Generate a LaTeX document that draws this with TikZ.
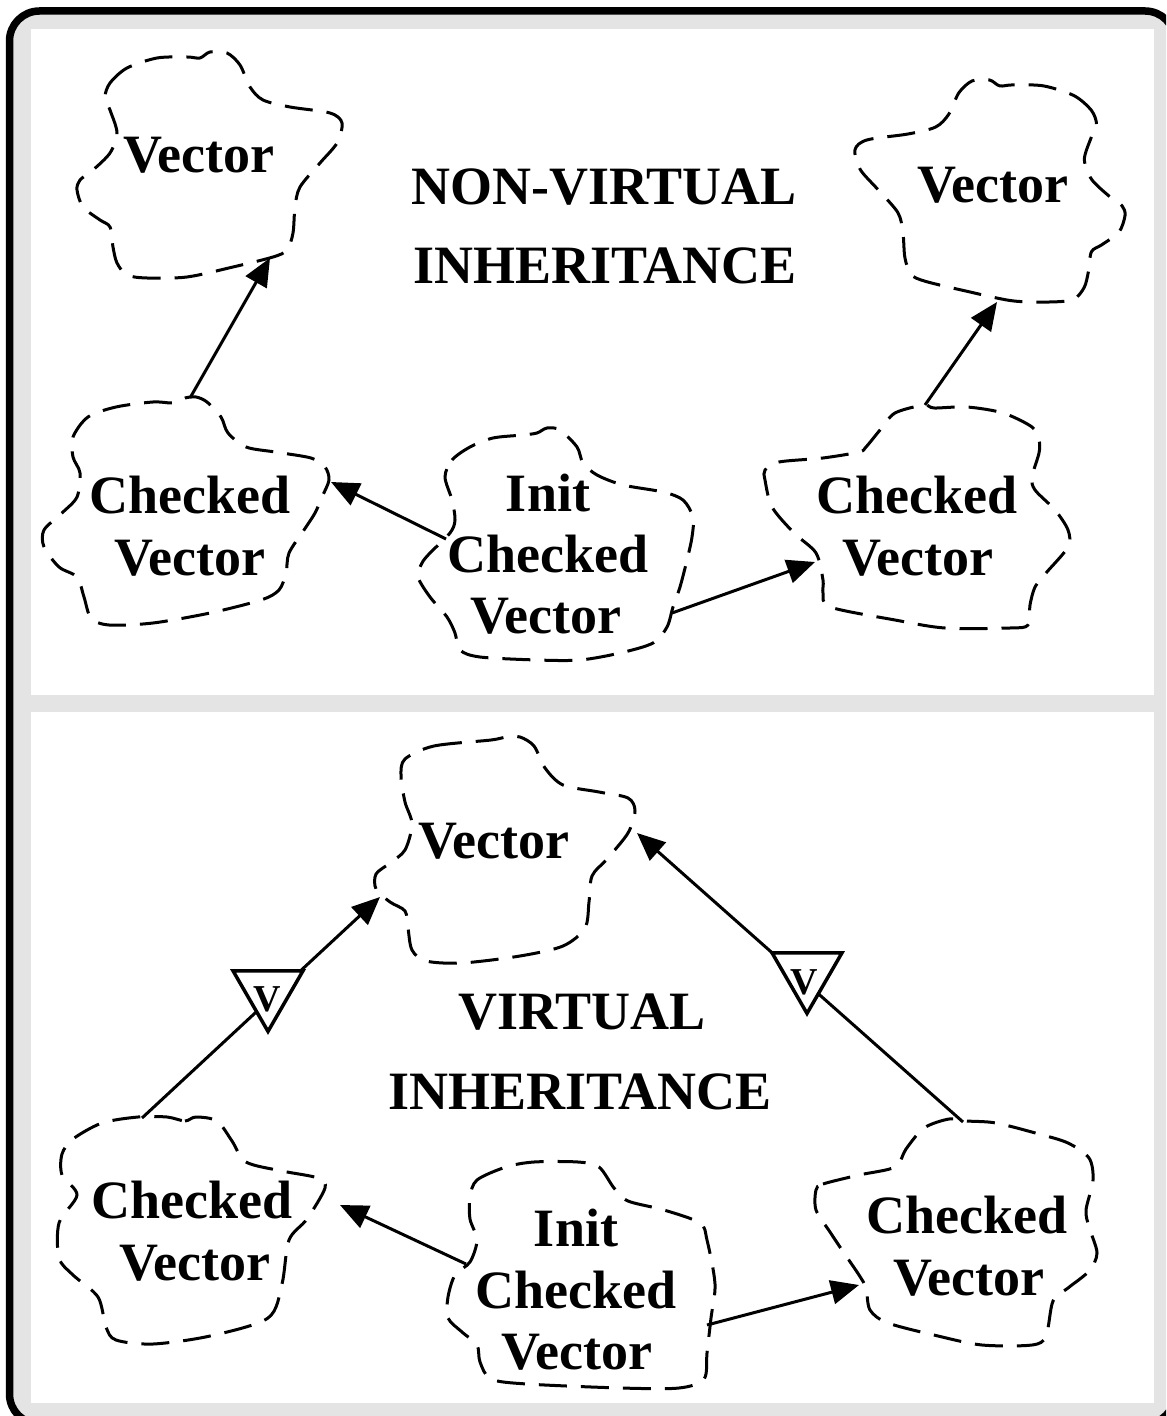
\documentclass[tikz,border=0pt]{standalone}
\usepackage{fontspec}
\setmainfont{Liberation Serif}
\usetikzlibrary{arrows.meta,shapes.geometric}
\definecolor{panelgrey}{HTML}{E4E4E4}
\begin{document}
\begin{tikzpicture}[x=0.5pt,y=-0.5pt,
  cloudpath/.style={line width=1.5pt, dash pattern=on 14pt off 7pt},
  arr/.style={line width=1.5pt, -{Triangle[length=14pt,width=12pt]}},
  lbl/.style={font=\bfseries\fontsize{27}{31}\selectfont, anchor=base, inner sep=0pt},
  vtri/.style={regular polygon, regular polygon sides=3, shape border rotate=180,
    draw, fill=white, line width=1.75pt, minimum size=40.4pt, inner sep=0pt},
  vlbl/.style={font=\bfseries\fontsize{19}{22}\selectfont, inner sep=0pt}]
\useasboundingbox (0,0) rectangle (1166,1416);
\fill[white] (0,0) rectangle (1166,1416);
% frame and panels
\begin{scope}
\clip (0,0) rectangle (1166,1416);
\draw[line width=3.75pt, fill=panelgrey, rounded corners=15pt] (9.5,11) rectangle (1175,1424);
\end{scope}
\fill[white] (31,29) rectangle (1154,695);
\fill[white] (31,712) rectangle (1154,1403);

% ---------- top panel clouds ----------
% top-left Vector
\draw[cloudpath] plot[smooth cycle] coordinates {(105,97) (110,83) (127,68) (157,58) (187,57) (200,58) (210,52) (227,53) (240,65) (250,87) (263,100) (290,107) (330,113) (342,123) (337,143) (320,163) (300,187) (295,207) (293,233) (287,250) (273,257) (233,267) (187,277) (147,278) (127,275) (117,263) (113,247) (110,227) (100,220) (83,207) (77,190) (80,180) (93,170) (110,153) (117,133) (110,110)};
% top-right Vector
\draw[cloudpath] plot[smooth cycle] coordinates {(1096.5,124.2) (1091.4,110.4) (1074.1,95.7) (1043.5,85.9) (1012.9,84.9) (999.7,85.9) (989.5,80.0) (972.2,80.9) (958.9,92.7) (948.7,114.3) (935.5,127.1) (908.0,134.0) (867.2,139.9) (855.0,149.7) (860.1,169.3) (877.4,189.0) (897.8,212.5) (902.9,232.2) (904.9,257.7) (911.0,274.4) (925.3,281.3) (966.1,291.1) (1012.9,300.9) (1053.7,301.9) (1074.1,299.0) (1084.3,287.2) (1088.4,271.5) (1091.4,251.8) (1101.6,244.9) (1118.9,232.2) (1125.0,215.5) (1122.0,205.7) (1108.7,195.8) (1091.4,179.1) (1084.3,159.5) (1091.4,136.9)};
% top left Checked Vector
\draw[cloudpath] plot[smooth cycle] coordinates {(174,403) (185,398) (196,397) (207,402) (221,417) (228,433) (246,447) (275,452) (311,458) (325,467) (329,480) (322,497) (315,513) (304,530) (289,553) (286,573) (279,590) (261,600) (210,613) (153,623) (109,625) (91,618) (84,597) (77,577) (59,567) (44,547) (44,530) (62,513) (77,497) (80,473) (73,457) (73,437) (88,417) (116,407) (153,402)};
% top Init Checked Vector
\draw[cloudpath] plot[smooth cycle] coordinates {(445,477) (452,460) (470,447) (493,438) (523,435) (537,433) (547,428) (560,430) (577,447) (583,463) (597,475) (623,485) (663,492) (683,500) (693,517) (692,537) (687,560) (680,587) (673,607) (667,627) (653,643) (620,653) (580,660) (537,660) (480,657) (460,650) (455,633) (447,617) (430,597) (418,577) (422,563) (430,553) (450,533) (455,520) (452,500)};
% top right Checked Vector
\draw[cloudpath] plot[smooth cycle] coordinates {(765,470) (779,462) (823,458) (859,452) (866,447) (880,430) (895,413) (924,405) (934,408) (967,407) (1003,413) (1032,427) (1039,440) (1039,453) (1032,477) (1035,490) (1055,510) (1068,530) (1068,547) (1046,573) (1035,587) (1030,605) (1028,625) (1010,628) (945,628) (895,620) (830,607) (823,593) (823,580) (816,553) (794,533) (772,507) (765,480)};

% ---------- bottom panel clouds ----------
% bottom Vector
\draw[cloudpath] plot[smooth cycle] coordinates {(405,759) (434,746) (491,740) (506,737) (520,737) (534,746) (545,768) (563,785) (599,792) (628,798) (635,811) (628,833) (607,859) (592,876) (589,902) (585,928) (563,946) (520,956) (462,963) (426,961) (412,950) (408,928) (405,911) (390,902) (376,889) (376,874) (390,863) (405,850) (412,824) (405,802) (401,776)};
% bottom left Checked Vector
\draw[cloudpath] plot[smooth cycle] coordinates {(167,1117) (185,1121) (196,1117) (217,1121) (232,1141) (246,1162) (282,1171) (318,1178) (325,1188) (307,1219) (289,1240) (282,1284) (268,1318) (210,1336) (153,1344) (116,1340) (106,1327) (98,1297) (73,1275) (59,1258) (59,1223) (77,1195) (62,1175) (62,1154) (73,1139) (102,1123) (138,1117)};
% bottom Init Checked Vector
\draw[cloudpath] plot[smooth cycle] coordinates {(470,1197) (477,1180) (506,1167) (534,1162) (578,1162) (599,1167) (614,1188) (628,1201) (664,1210) (700,1223) (707,1240) (715,1284) (711,1318) (707,1353) (704,1379) (679,1388) (621,1388) (527,1384) (491,1379) (480,1362) (477,1345) (462,1332) (448,1318) (448,1297) (455,1275) (470,1262) (477,1240) (470,1219)};
% bottom right Checked Vector
\draw[cloudpath] plot[smooth cycle] coordinates {(816,1190) (823,1184) (859,1175) (895,1167) (906,1149) (924,1128) (949,1119) (967,1121) (996,1123) (1039,1134) (1068,1143) (1089,1158) (1093,1180) (1086,1210) (1089,1227) (1097,1253) (1089,1271) (1068,1288) (1053,1301) (1046,1336) (1032,1345) (982,1345) (938,1336) (888,1323) (870,1310) (866,1288) (859,1275) (844,1253) (830,1232) (816,1210)};

% ---------- connector end points ----------
\coordinate (tlcTop) at (190,398);
\coordinate (tlvBot) at (270,258);
\coordinate (trcTop) at (925,405);
\coordinate (trvBot) at (997,302);
\coordinate (tiLeft) at (446,539);
\coordinate (tlcRight) at (331,482);
\coordinate (tiRight) at (672,613);
\coordinate (trcLeft) at (815,562);
\coordinate (blcTop) at (142,1118);
\coordinate (bvLeft) at (380,897);
\coordinate (brcTop) at (963,1122);
\coordinate (bvRight) at (637,833);
\coordinate (biLeft) at (466,1264);
\coordinate (blcRight) at (340,1205);
\coordinate (biRight) at (707,1325);
\coordinate (brcLeft) at (859,1285);

% ---------- connectors ----------
\draw[arr] (tlcTop) -- (tlvBot);
\draw[arr] (trcTop) -- (trvBot);
\draw[arr] (tiLeft) -- (tlcRight);
\draw[arr] (tiRight) -- (trcLeft);
\draw[arr] (blcTop) -- (bvLeft);
\draw[arr] (brcTop) -- (bvRight);
\draw[arr] (biLeft) -- (blcRight);
\draw[arr] (biRight) -- (brcLeft);

% virtual markers
\node[vtri] (vL) at (268,991) {};
\node[vlbl] (vLt) at (267,999) {V};
\node[vtri] (vR) at (807,973) {};
\node[vlbl] (vRt) at (804,982) {V};

% ---------- texts ----------
\node[lbl] (t1) at (199,173) {Vector};
\node[lbl] (t2) at (993,203) {Vector};
\node[lbl] (h1) at (604,205) {NON-VIRTUAL};
\node[lbl] (h2) at (605,284) {INHERITANCE};
\node[lbl] (t3a) at (190,513) {Checked};
\node[lbl] (t3b) at (190,575) {Vector};
\node[lbl] (t4a) at (548,511) {Init};
\node[lbl] (t4b) at (548,572) {Checked};
\node[lbl] (t4c) at (546,633) {Vector};
\node[lbl] (t5a) at (917,513) {Checked};
\node[lbl] (t5b) at (918,575) {Vector};

\node[lbl] (b1) at (494,858) {Vector};
\node[lbl] (h3) at (582,1029) {VIRTUAL};
\node[lbl] (h4) at (580,1109) {INHERITANCE};
\node[lbl] (b2a) at (192,1218) {Checked};
\node[lbl] (b2b) at (195,1280) {Vector};
\node[lbl] (b3a) at (576,1246) {Init};
\node[lbl] (b3b) at (576,1308) {Checked};
\node[lbl] (b3c) at (577,1369) {Vector};
\node[lbl] (b4a) at (967,1233) {Checked};
\node[lbl] (b4b) at (969,1295) {Vector};
\end{tikzpicture}
\end{document}
